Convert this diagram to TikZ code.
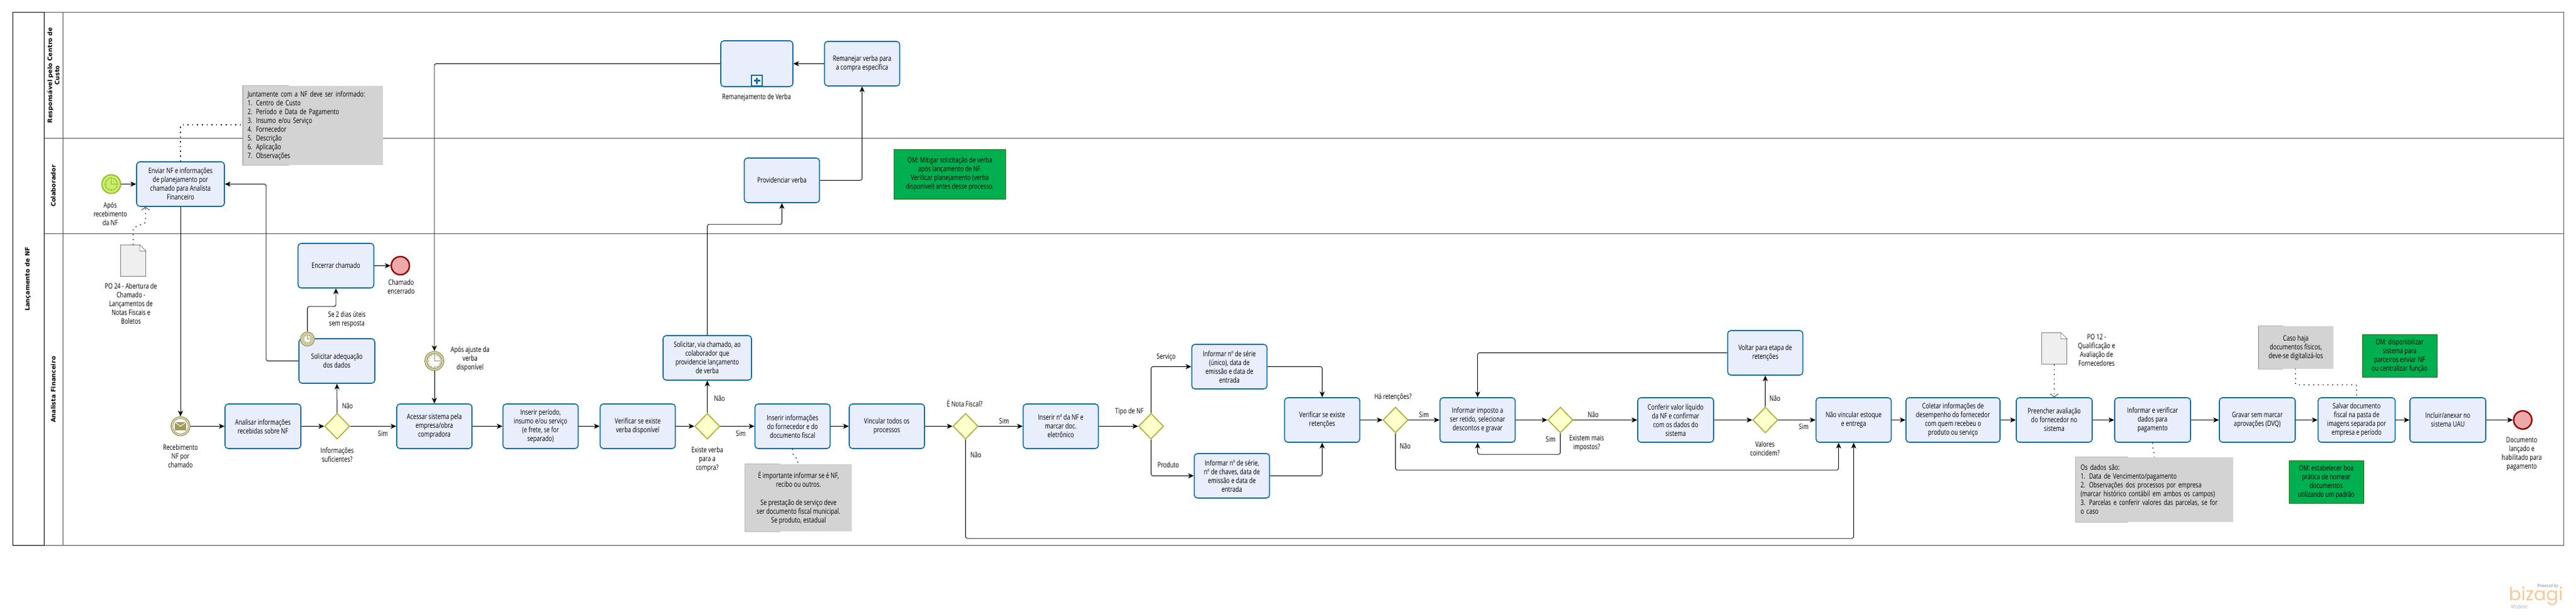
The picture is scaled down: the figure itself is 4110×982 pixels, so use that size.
\documentclass[tikz,border=0pt]{standalone}
\usepackage{fontspec}
\setmainfont{Open Sans}[FakeStretch=0.76]
\newfontfamily\lanefont{DejaVu Sans}
\newfontfamily\logofont{Poppins}
\usetikzlibrary{arrows.meta,shapes.geometric,calc}
\definecolor{tarefaborda}{HTML}{146FA3}
\definecolor{tarefafundo}{HTML}{E9EEFD}
\definecolor{gateborda}{HTML}{A9A92B}
\definecolor{gatefundo}{HTML}{FFFFCC}
\definecolor{notacinza}{HTML}{D3D3D3}
\definecolor{notaborda}{HTML}{8F8F8F}
\definecolor{omverde}{HTML}{00B050}
\definecolor{omborda}{HTML}{0C6B0C}
\definecolor{oliva}{HTML}{A09A58}
\definecolor{fimborda}{HTML}{990000}
\definecolor{fimfundo}{HTML}{EBA9A9}
\definecolor{iniborda}{HTML}{83BA1E}
\definecolor{inifundo}{HTML}{CDEB70}
\definecolor{folhafundo}{HTML}{EFEFEF}
\definecolor{raia}{HTML}{555555}
\definecolor{logolaranja}{HTML}{F9C796}
\definecolor{logocinza}{HTML}{A8B4BC}
\tikzset{
  tarefa/.style={rectangle, rounded corners=5pt, draw=tarefaborda, line width=1.6pt, fill=tarefafundo,
    minimum width=#1, minimum height=71, align=center, inner sep=1pt, font=\texto},
  tarefa/.default=120,
  gate/.style={diamond, aspect=1, draw=gateborda, line width=1.5pt, fill=gatefundo, minimum width=40, minimum height=41, inner sep=0pt},
  evfim/.style={circle, draw=fimborda, line width=2.4pt, fill=fimfundo, minimum size=29, inner sep=0pt},
  evini/.style={circle, draw=iniborda, line width=1.6pt, fill=inifundo, minimum size=30, inner sep=0pt},
  evmeio/.style={circle, draw=oliva, line width=1.6pt, fill=white, minimum size=#1, inner sep=0pt},
  evmeio/.default=30,
  rotulo/.style={align=center, inner sep=0pt, font=\texto},
  nota/.style={rectangle, fill=notacinza, inner sep=0pt, align=center, font=\texto,
    append after command={\pgfextra{\draw[notaborda, line width=.9pt]
      ($(\tikzlastnode.north west)!.33!(\tikzlastnode.north east)$) -- (\tikzlastnode.north west) -- (\tikzlastnode.south west)
      -- ($(\tikzlastnode.south west)!.33!(\tikzlastnode.south east)$);}}},
  notaom/.style={rectangle, fill=omverde, draw=omborda, line width=.9pt, inner sep=0pt, align=center, font=\texto},
  folha/.style={rectangle, draw=gray, line width=.8pt, fill=folhafundo, minimum width=40, minimum height=50, inner sep=0pt},
  titulo/.style={rotate=90, align=center, inner sep=0pt, font=\lanefont\bfseries\fontsize{9.7}{11.5}\selectfont},
  fluxo/.style={line width=.9pt, rounded corners=3pt, -{Stealth[length=9pt,width=8pt,inset=2.5pt]}},
  elo/.style={line width=1.2pt, dash pattern=on 1.6pt off 6pt, rounded corners=2pt},
  eloseta/.style={elo, -{Straight Barb[length=5pt,width=13pt,line width=.6pt]}},
}
\newcommand{\texto}{\fontsize{11.9}{14}\selectfont}
\newcommand{\relogio}[3]{%
  \draw[#3, line width=.7pt] (#1.center) circle (#2);
  \foreach \a in {0,30,...,330}
    \draw[#3, line width=.5pt] ($(#1.center)+(\a:#2*0.72)$) -- ($(#1.center)+(\a:#2*0.95)$);
  \draw[#3, line width=.7pt] (#1.center) -- ++(0,-#2*.7) (#1.center) -- ++(#2*.7,0);}
\newcommand{\dobra}[1]{%
  \fill[white] ([xshift=-10pt]#1.north east) -- (#1.north east) -- ([yshift=-10pt]#1.north east) -- cycle;
  \draw[gray, line width=.8pt, fill=white] ([xshift=-10pt]#1.north east) -- ([xshift=-10pt,yshift=-10pt]#1.north east)
    -- ([yshift=-10pt]#1.north east) -- cycle;}
\begin{document}
\begin{tikzpicture}[x=1pt, y=-1pt]
    \useasboundingbox (0,0) rectangle (4110,982);
    \draw[raia, line width=1pt] (70.5,20) rectangle (4090.5,869);
    \draw[black, line width=1pt] (20.5,20) rectangle (70.5,869);
    \draw[raia, line width=1pt] (100.5,20) -- (100.5,869);
    \draw[raia, line width=1pt] (70.5,220) -- (4090.5,220);
    \draw[raia, line width=1pt] (70.5,372) -- (4090.5,372);
    \node[titulo] (tPool) at (44.5,445) {Lançamento de NF};
    \node[titulo] (tResp) at (85,120) {Responsável pelo Centro de\\Custo};
    \node[titulo] (tColab) at (85,296.5) {Colaborador};
    \node[titulo] (tAnal) at (85,621) {Analista Financeiro};

    \node[evini] (inicio) at (177.5,293.5) {};
    \node[tarefa=140] (enviar) at (288,293.5) {Enviar NF e informações\\de planejamento por\\chamado para Analista\\Financeiro};
    \node[evmeio] (receb) at (288,679.5) {};
    \node[tarefa=121] (analisar) at (419.5,679.5) {Analisar informações\\recebidas sobre NF};
    \node[gate] (gInfo) at (538,679.5) {};
    \node[tarefa=121] (solAdeq) at (537.5,575.5) {Solicitar adequação\\dos dados};
    \node[evmeio=22] (tempo) at (490.5,540.5) {};
    \node[tarefa=121] (encerrar) at (536,423.5) {Encerrar chamado};
    \node[evfim] (fimCham) at (638.7,423.5) {};
    \node[evmeio] (ajuste) at (693,575.5) {};
    \node[tarefa] (acessar) at (693,679.5) {Acessar sistema pela\\empresa/obra\\compradora};
    \node[tarefa] (periodo) at (862.5,679.5) {Inserir período,\\insumo e/ou serviço\\(e frete, se for\\separado)};
    \node[tarefa] (verVerba) at (1017.5,679.5) {Verificar se existe\\verba disponível};
    \node[gate] (gVerba) at (1128.5,679.5) {};
    \node[tarefa=141] (solVia) at (1128.5,570.5) {Solicitar, via chamado, ao\\colaborador que\\providencie lançamento\\de verba};
    \node[tarefa] (provid) at (1247.5,287.5) {Providenciar verba};
    \node[tarefa] (remanejar) at (1375.5,101.5) {Remanejar verba para\\a compra específica};
    \node[tarefa=115, minimum height=73] (subRem) at (1207.5,101.5) {};
    \node[rectangle, draw=tarefaborda, line width=1.4pt, fill=white, minimum width=17, minimum height=17, inner sep=0pt] (marca) at (1207.5,128.5) {};
    \draw[tarefaborda, line width=2.4pt] ([xshift=-5pt]marca.center) -- ([xshift=5pt]marca.center);
    \draw[tarefaborda, line width=2.4pt] ([yshift=-5pt]marca.center) -- ([yshift=5pt]marca.center);
    \node[tarefa] (insForn) at (1264.5,679.5) {Inserir informações\\do fornecedor e do\\documento fiscal};
    \node[tarefa] (vincular) at (1415,679.5) {Vincular todos os\\processos};
    \node[gate] (gNota) at (1540.5,679.5) {};
    \node[tarefa] (insNum) at (1692.5,679.5) {Inserir nº da NF e\\marcar doc.\\eletrônico};
    \node[gate] (gTipo) at (1836.5,679.5) {};
    \node[tarefa] (infServ) at (1961.5,584.5) {Informar nº de série\\(único), data de\\emissão e data de\\entrada};
    \node[tarefa] (infProd) at (1965.5,758.5) {Informar nº de série,\\nº de chaves, data de\\emissão e data de\\entrada};
    \node[tarefa] (verRet) at (2109.5,669.5) {Verificar se existe\\retenções};
    \node[gate] (gRet) at (2226.5,669.5) {};
    \node[tarefa] (infImp) at (2357.5,669.5) {Informar imposto a\\ser retido, selecionar\\descontos e gravar};
    \node[gate] (gMais) at (2489.5,669.5) {};
    \node[tarefa=121] (conferir) at (2673.5,669.5) {Conferir valor líquido\\da NF e confirmar\\com os dados do\\sistema};
    \node[gate] (gValor) at (2816.5,669.5) {};
    \node[tarefa] (voltar) at (2816.5,562.5) {Voltar para etapa de\\retenções};
    \node[tarefa] (naoVinc) at (2957.5,669.5) {Não vincular estoque\\e entrega};
    \node[tarefa=150] (coletar) at (3116,669.5) {Coletar informações de\\desempenho do fornecedor\\com quem recebeu o\\produto ou serviço};
    \node[tarefa=121] (preencher) at (3277.5,669.5) {Preencher avaliação\\do fornecedor no\\sistema};
    \node[tarefa=121] (infPag) at (3434.5,669.5) {Informar e verificar\\dados para\\pagamento};
    \node[tarefa=121] (gravar) at (3601.5,669.5) {Gravar sem marcar\\aprovações (DVQ)};
    \node[tarefa=123] (salvar) at (3760,669.5) {Salvar documento\\fiscal na pasta de\\imagens separada por\\empresa e período};
    \node[tarefa=121] (incluir) at (3905.5,669.5) {Incluir/anexar no\\sistema UAU};
    \node[evfim] (fimDoc) at (4025,669.5) {};

    \node[folha] (poVinte) at (212.5,415.5) {};
    \dobra{poVinte}
    \node[folha] (poDoze) at (3277.5,555.5) {};
    \dobra{poDoze}

    \draw[eloseta] (poVinte.north) -- ++(0,-27) -- ++(20,-8) -- ([xshift=-56pt]enviar.south);
    \draw[elo] (enviar.north) |- (499,199);
    \draw[elo] (insForn.south) -- ++(0,7) -- ++(8.5,11) -- (1273,740);
    \draw[eloseta] (poDoze.south) -- (preencher.north);
    \draw[elo] (infPag.south) -- ++(0,7) -- ++(2.5,8) -- (3437,729);
    \draw[elo] (3662.5,587.5) |- (3760,613.5) -- (salvar.north);

    \node[nota, minimum width=223, minimum height=126, text width=208, align=left] (notaNF) at (499,200) {Juntamente com a NF deve ser informado:\\1. Centro de Custo\\2. Período e Data de Pagamento\\3. Insumo e/ou Serviço\\4. Fornecedor\\5. Descrição\\6. Aplicação\\7. Observações};
    \node[nota, minimum width=170, minimum height=107] (notaImp) at (1274,793.5) {É importante informar se é NF,\\recibo ou outros.\\[15pt]Se prestação de serviço deve\\ser documento fiscal municipal.\\Se produto, estadual};
    \node[nota, minimum width=251, minimum height=103, text width=236, align=left] (notaDados) at (3437.5,780.5) {Os dados são:\\1. Data de Vencimento/pagamento\\2. Observações dos processos por empresa\\(marcar histórico contábil em ambos os campos)\\3. Parcelas e conferir valores das parcelas, se for\\o caso};
    \node[nota, minimum width=119, minimum height=68] (notaCaso) at (3663,554) {Caso haja\\documentos físicos,\\deve-se digitalizá-los};
    \node[notaom, minimum width=178, minimum height=79] (omVerba) at (1515.5,277.5) {OM: Mitigar solicitação de verba\\após lançamento de NF.\\Verificar planejamento (verba\\disponível) antes desse processo.};
    \node[notaom, minimum width=119, minimum height=68] (omSistema) at (3828.5,567) {OM: disponibilizar\\sistema para\\parceiros enviar NF\\ou centralizar função};
    \node[notaom, minimum width=119, minimum height=68] (omNome) at (3711.5,768) {OM: estabelecer boa\\prática de nomear\\documentos\\utilizando um padrão};

    \relogio{inicio}{10}{iniborda}
    \relogio{ajuste}{11}{oliva}
    \draw[oliva, line width=1.2pt] (ajuste.center) circle (12.5);
    \draw[oliva, line width=1pt] (tempo.center) circle (8.5);
    \relogio{tempo}{6.5}{oliva}
    \draw[oliva, line width=1.2pt] (receb.center) circle (12.5);
    \node[rectangle, fill=oliva, draw=oliva, minimum width=17, minimum height=12, inner sep=0pt] (carta) at (receb.center) {};
    \draw[white, line width=1pt] (carta.north west) -- (carta.center) -- (carta.north east);

    \draw[fluxo] (inicio) -- (enviar);
    \draw[fluxo] (enviar.south -| receb.north) -- (receb.north);
    \draw[fluxo] (receb) -- (analisar);
    \draw[fluxo] (analisar) -- (gInfo);
    \draw[fluxo] (gInfo) -- (acessar);
    \draw[fluxo] (gInfo) -- (solAdeq);
    \draw[fluxo] (solAdeq.west) -- ++(-51.5,0) |- (enviar.east);
    \draw[fluxo] (tempo.north) -- ++(0,-40) -| (encerrar.south);
    \draw[fluxo] (encerrar) -- (fimCham);
    \draw[fluxo] (subRem.west) -| (ajuste.north);
    \draw[fluxo] (ajuste) -- (acessar);
    \draw[fluxo] (acessar) -- (periodo);
    \draw[fluxo] (periodo) -- (verVerba);
    \draw[fluxo] (verVerba) -- (gVerba);
    \draw[fluxo] (gVerba) -- (insForn);
    \draw[fluxo] (gVerba) -- (solVia);
    \draw[fluxo] (solVia.north) -- ++(0,-176.5) -| (provid.south);
    \draw[fluxo] (provid.east) -| (remanejar.south);
    \draw[fluxo] (remanejar) -- (subRem);
    \draw[fluxo] (insForn) -- (vincular);
    \draw[fluxo] (vincular) -- (gNota);
    \draw[fluxo] (gNota) -- (insNum);
    \draw[fluxo] (gNota.south) -- ++(0,157.5) -| (naoVinc.south);
    \draw[fluxo] (insNum) -- (gTipo);
    \draw[fluxo] (gTipo.north) |- (infServ.west);
    \draw[fluxo] (gTipo.south) |- (infProd.west);
    \draw[fluxo] (infServ.east) -| (verRet.north);
    \draw[fluxo] (infProd.east) -| (verRet.south);
    \draw[fluxo] (verRet) -- (gRet);
    \draw[fluxo] (gRet) -- (infImp);
    \draw[fluxo] (gRet.south) -- ++(0,58.5) -| ([xshift=-24pt]naoVinc.south);
    \draw[fluxo] (infImp) -- (gMais);
    \draw[fluxo] (gMais.south) -- ++(0,33.5) -| (infImp.south);
    \draw[fluxo] (gMais) -- (conferir);
    \draw[fluxo] (conferir) -- (gValor);
    \draw[fluxo] (gValor) -- (voltar);
    \draw[fluxo] (voltar.west) -| (infImp.north);
    \draw[fluxo] (gValor) -- (naoVinc);
    \draw[fluxo] (naoVinc) -- (coletar);
    \draw[fluxo] (coletar) -- (preencher);
    \draw[fluxo] (preencher) -- (infPag);
    \draw[fluxo] (infPag) -- (gravar);
    \draw[fluxo] (gravar) -- (salvar);
    \draw[fluxo] (salvar) -- (incluir);
    \draw[fluxo] (incluir) -- (fimDoc);

    \node[rotulo] (lInicio) at (176,341) {Após\\recebimento\\da NF};
    \node[rotulo] (lPoVinte) at (209,484) {PO 24 - Abertura de\\Chamado -\\Lançamentos de\\Notas Fiscais e\\Boletos};
    \node[rotulo] (lReceb) at (288,727) {Recebimento\\NF por\\chamado};
    \node[rotulo] (lInfo) at (538,725) {Informações\\suficientes?};
    \node[rotulo] (lInfoN) at (554.5,647) {Não};
    \node[rotulo] (lInfoS) at (611,691) {Sim};
    \node[rotulo] (lTempo) at (553.5,509) {Se 2 dias úteis\\sem resposta};
    \node[rotulo] (lFimCham) at (640,457) {Chamado\\encerrado};
    \node[rotulo] (lAjuste) at (750,572) {Após ajuste da\\verba\\disponível};
    \node[rotulo] (lSubRem) at (1207,155) {Remanejamento de Verba};
    \node[rotulo] (lVerba) at (1128.5,732) {Existe verba\\para a\\compra?};
    \node[rotulo] (lVerbaN) at (1148,635) {Não};
    \node[rotulo] (lVerbaS) at (1182,691) {Sim};
    \node[rotulo] (lNota) at (1539,643) {É Nota Fiscal?};
    \node[rotulo] (lNotaS) at (1602,671) {Sim};
    \node[rotulo] (lNotaN) at (1557,725) {Não};
    \node[rotulo] (lTipo) at (1802,656) {Tipo de NF};
    \node[rotulo] (lServ) at (1860.5,570) {Serviço};
    \node[rotulo] (lProd) at (1864,741) {Produto};
    \node[rotulo] (lRet) at (2222.5,633) {Há retenções?};
    \node[rotulo] (lRetS) at (2272,661) {Sim};
    \node[rotulo] (lRetN) at (2242,711) {Não};
    \node[rotulo] (lMais) at (2531.5,707) {Existem mais\\impostos?};
    \node[rotulo] (lMaisN) at (2542,661) {Não};
    \node[rotulo] (lMaisS) at (2474,700) {Sim};
    \node[rotulo] (lValor) at (2816,715) {Valores\\coincidem?};
    \node[rotulo] (lValorN) at (2832,635) {Não};
    \node[rotulo] (lValorS) at (2878,680) {Sim};
    \node[rotulo] (lPoDoze) at (3345,558) {PO 12 -\\Qualificação e\\Avaliação de\\Fornecedores};
    \node[rotulo] (lFimDoc) at (4023.5,724) {Documento\\lançado e\\habilitado para\\pagamento};

    \node[inner sep=0pt, text=logocinza, font=\bfseries\fontsize{7.5}{9}\selectfont] (logoPow) at (4065,934.5) {Powered by};
    \node[inner sep=0pt, text=logolaranja, font=\logofont\fontsize{29}{30}\selectfont] (logoBiz) at (4046,950) {bizagi};
    \node[inner sep=0pt, text=logocinza, font=\fontsize{9}{10}\selectfont] (logoMod) at (4020,967) {Modeler};
\end{tikzpicture}
\end{document}
